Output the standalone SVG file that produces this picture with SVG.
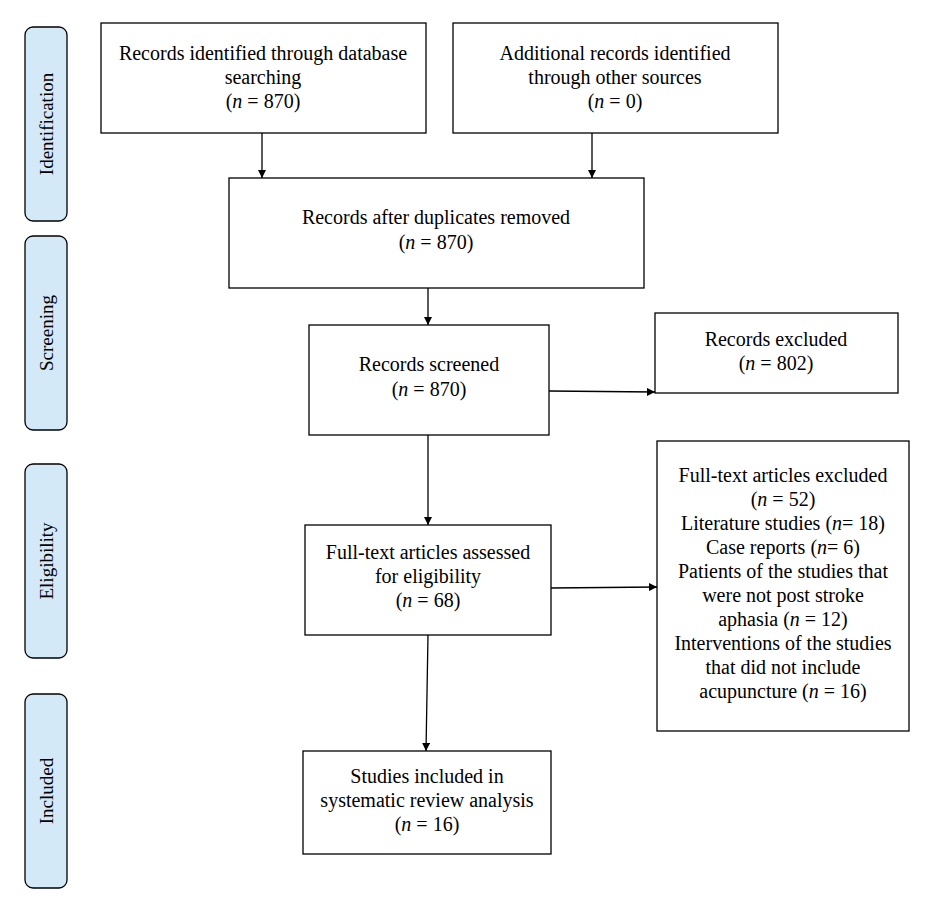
<svg xmlns="http://www.w3.org/2000/svg" width="936" height="916" viewBox="0 0 936 916">
<style>
.b{fill:#fff;stroke:#000;stroke-width:1.3}
.s{fill:#d4e9f7;stroke:#000;stroke-width:1.3}
text{font-family:"Liberation Serif",serif;font-size:20px;text-anchor:middle;fill:#000}
.lab{font-size:19px}
.c line{stroke:#000;stroke-width:1.3;marker-end:url(#a)}
</style>
<defs><marker id="a" viewBox="0 0 10 10" refX="10" refY="5" markerWidth="8" markerHeight="8" markerUnits="userSpaceOnUse" orient="auto"><path d="M0,0L10,5L0,10z" fill="#000"/></marker></defs>
<rect width="936" height="916" fill="#fff"/>
<g id="stage-identification"><rect class="s" x="25" y="27" width="42" height="194" rx="8"/><text class="lab" transform="translate(53,124) rotate(-90)">Identification</text></g>
<g id="stage-screening"><rect class="s" x="25" y="236" width="42" height="194" rx="8"/><text class="lab" transform="translate(53,333) rotate(-90)">Screening</text></g>
<g id="stage-eligibility"><rect class="s" x="25" y="464" width="42" height="194" rx="8"/><text class="lab" transform="translate(53,561) rotate(-90)">Eligibility</text></g>
<g id="stage-included"><rect class="s" x="25" y="694" width="42" height="194" rx="8"/><text class="lab" transform="translate(53,791) rotate(-90)">Included</text></g>
<g id="n1"><rect class="b" x="101" y="23" width="325" height="110"/><text x="263" y="60">Records identified through database</text><text x="263" y="84">searching</text><text x="263" y="108">(<tspan font-style="italic">n</tspan> = 870)</text></g>
<g id="n2"><rect class="b" x="453" y="23" width="325" height="110"/><text x="615" y="60">Additional records identified</text><text x="615" y="84">through other sources</text><text x="615" y="108">(<tspan font-style="italic">n</tspan> = 0)</text></g>
<g id="n3"><rect class="b" x="229" y="178" width="415" height="110"/><text x="436" y="224">Records after duplicates removed</text><text x="436" y="249">(<tspan font-style="italic">n</tspan> = 870)</text></g>
<g id="n4"><rect class="b" x="309" y="325" width="240" height="110"/><text x="429" y="371">Records screened</text><text x="429" y="396">(<tspan font-style="italic">n</tspan> = 870)</text></g>
<g id="n5"><rect class="b" x="655" y="313" width="243" height="80"/><text x="776" y="346">Records excluded</text><text x="776" y="370">(<tspan font-style="italic">n</tspan> = 802)</text></g>
<g id="n6"><rect class="b" x="305" y="525" width="246" height="110"/><text x="428" y="559">Full-text articles assessed</text><text x="428" y="583">for eligibility</text><text x="428" y="607">(<tspan font-style="italic">n</tspan> = 68)</text></g>
<g id="n7"><rect class="b" x="657" y="441" width="252" height="290"/>
<text x="783" y="482">Full-text articles excluded</text>
<text x="783" y="506">(<tspan font-style="italic">n</tspan> = 52)</text>
<text x="783" y="530">Literature studies (<tspan font-style="italic">n</tspan>= 18)</text>
<text x="783" y="554">Case reports (<tspan font-style="italic">n</tspan>= 6)</text>
<text x="783" y="578">Patients of the studies that</text>
<text x="783" y="602">were not post stroke</text>
<text x="783" y="626">aphasia (<tspan font-style="italic">n</tspan> = 12)</text>
<text x="783" y="650">Interventions of the studies</text>
<text x="783" y="674">that did not include</text>
<text x="783" y="698">acupuncture (<tspan font-style="italic">n</tspan> = 16)</text></g>
<g id="n8"><rect class="b" x="303" y="751" width="248" height="103"/><text x="427" y="783">Studies included in</text><text x="427" y="807">systematic review analysis</text><text x="427" y="831">(<tspan font-style="italic">n</tspan> = 16)</text></g>
<g class="c" id="connectors">
<line x1="262" y1="133" x2="262" y2="178"/>
<line x1="592" y1="133" x2="592" y2="178"/>
<line x1="428" y1="288" x2="428" y2="325"/>
<line x1="549" y1="391" x2="655" y2="392"/>
<line x1="428" y1="435" x2="428" y2="525"/>
<line x1="551" y1="588" x2="657" y2="587"/>
<line x1="428" y1="635" x2="426" y2="751"/>
</g>
</svg>
